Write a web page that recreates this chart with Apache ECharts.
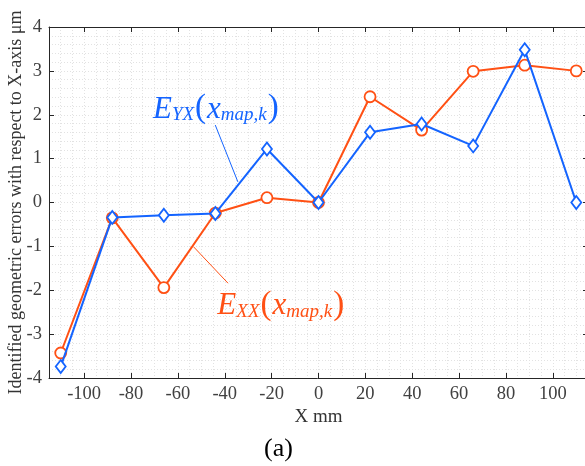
<!DOCTYPE html>
<html>
<head>
<meta charset="utf-8">
<script src="https://cdn.jsdelivr.net/npm/echarts@6/dist/echarts.min.js"></script>
<style>
html, body { margin: 0; padding: 0; background: #fff; }
#main { width: 585px; height: 466px; }
</style>
</head>
<body>
<div id="main"></div>
<script>
// measurement positions (mm)
var xPos = [-110, -88, -66, -44, -22, 0, 22, 44, 66, 88, 110];
// identified errors (um)
var exx = [-3.43, -0.35, -1.94, -0.24, 0.11, 0.0, 2.41, 1.65, 2.99, 3.13, 3.0];
var eyx = [-3.74, -0.34, -0.29, -0.25, 1.22, 0.0, 1.60, 1.79, 1.29, 3.48, 0.0];
var xTicks = [-100, -80, -60, -40, -20, 0, 20, 40, 60, 80, 100];
var yTicks = [-4, -3, -2, -1, 0, 1, 2, 3, 4];

var BLUE = '#1464ff';
var ORANGE = '#ff5014';
var SERIF = 'Liberation Serif';

function pairs(xs, ys) {
  return xs.map(function (x, i) { return [x, ys[i]]; });
}

function mathRich(color) {
  return {
    e: { fontFamily: SERIF, fontStyle: 'italic', fontSize: 31, color: color, lineHeight: 34, verticalAlign: 'bottom' },
    s: { fontFamily: SERIF, fontStyle: 'italic', fontSize: 19, color: color, lineHeight: 15, verticalAlign: 'bottom' },
    p: { fontFamily: SERIF, fontSize: 33, color: color, lineHeight: 36, verticalAlign: 'bottom', padding: [0, 1, 0, 1] }
  };
}

var chart = echarts.init(document.getElementById('main'), null, { renderer: 'canvas' });

var axisLine = { show: true, onZero: false, lineStyle: { color: '#262626', width: 1 } };
var tickStyle = { color: '#262626', width: 1 };
var gridDots = { show: true, lineStyle: { color: '#e2e2e2', type: [1, 2], width: 1 } };
var hidden = { show: false };

var option = {
  animation: false,
  title: {
    text: '(a)',
    left: 259,
    top: 431,
    textStyle: { fontFamily: SERIF, fontSize: 26, fontWeight: 'normal', color: '#000' }
  },
  grid: { left: 49, right: -3, top: 27, bottom: 88, outerBoundsMode: 'none', containLabel: false },
  xAxis: [
    {
      type: 'value', position: 'bottom', min: -115, max: 115, interval: 5,
      name: 'X mm', nameLocation: 'middle', nameGap: 30, nameMoveOverlap: false,
      nameTextStyle: { fontFamily: SERIF, fontSize: 19, color: '#333' },
      axisLine: axisLine,
      axisTick: { show: true, inside: true, length: 5, customValues: xTicks, lineStyle: tickStyle },
      axisLabel: { show: true, customValues: xTicks, margin: 7, fontFamily: SERIF, fontSize: 18.5, color: '#404040' },
      splitLine: hidden
    },
    {
      type: 'value', position: 'top', min: -115, max: 115, interval: 5,
      axisLine: axisLine,
      axisTick: { show: true, inside: true, length: 5, customValues: xTicks, lineStyle: tickStyle },
      axisLabel: hidden,
      splitLine: hidden
    },
    {
      // dotted minor grid only
      type: 'value', position: 'bottom', min: -115, max: 115, interval: 5,
      axisLine: hidden, axisTick: hidden, axisLabel: hidden,
      splitLine: gridDots
    }
  ],
  yAxis: [
    {
      type: 'value', position: 'left', min: -4, max: 4, interval: 0.2,
      name: 'Identified geometric errors with respect to X-axis \u03bcm',
      nameLocation: 'middle', nameGap: 24, nameMoveOverlap: false,
      nameTextStyle: { fontFamily: SERIF, fontSize: 18, color: '#333' },
      axisLine: axisLine,
      axisTick: { show: true, inside: true, length: 5, customValues: yTicks, lineStyle: tickStyle },
      axisLabel: { show: true, customValues: yTicks, margin: 7, fontFamily: SERIF, fontSize: 18.5, color: '#404040' },
      splitLine: hidden
    },
    {
      type: 'value', position: 'right', min: -4, max: 4, interval: 0.2,
      axisLine: axisLine,
      axisTick: { show: true, inside: true, length: 5, customValues: yTicks, lineStyle: tickStyle },
      axisLabel: hidden,
      splitLine: hidden
    },
    {
      type: 'value', position: 'left', min: -4, max: 4, interval: 0.2,
      axisLine: hidden, axisTick: hidden, axisLabel: hidden,
      splitLine: gridDots
    }
  ],
  series: [
    {
      name: 'EXX',
      type: 'line',
      data: pairs(xPos, exx),
      symbol: 'circle',
      symbolSize: 11,
      showAllSymbol: true,
      lineStyle: { color: ORANGE, width: 2 },
      itemStyle: { color: '#fff', borderColor: ORANGE, borderWidth: 1.8 },
      z: 3,
      markLine: {
        silent: true, symbol: ['none', 'none'],
        lineStyle: { color: ORANGE, width: 1, type: 'solid' },
        label: { show: false },
        data: [[{ coord: [-53.3, -1.01] }, { coord: [-38.6, -1.84] }]]
      },
      markPoint: {
        silent: true, symbol: 'circle', symbolSize: 1,
        itemStyle: { color: 'rgba(0,0,0,0)' },
        label: {
          show: true, position: 'inside',
          formatter: '{e|E}{s|XX}{p|(}{e|x}{s|map,k}{p|)}',
          rich: mathRich(ORANGE)
        },
        data: [{ coord: [-15.9, -2.3] }]
      }
    },
    {
      name: 'EYX',
      type: 'line',
      data: pairs(xPos, eyx),
      symbol: 'diamond',
      symbolSize: [10, 13],
      showAllSymbol: true,
      lineStyle: { color: BLUE, width: 2 },
      itemStyle: { color: '#fff', borderColor: BLUE, borderWidth: 1.8 },
      z: 4,
      markLine: {
        silent: true, symbol: ['none', 'none'],
        lineStyle: { color: BLUE, width: 1, type: 'solid' },
        label: { show: false },
        data: [[{ coord: [-44.05, 1.765] }, { coord: [-34.4, 0.47] }]]
      },
      markPoint: {
        silent: true, symbol: 'circle', symbolSize: 1,
        itemStyle: { color: 'rgba(0,0,0,0)' },
        label: {
          show: true, position: 'inside',
          formatter: '{e|E}{s|YX}{p|(}{e|x}{s|map,k}{p|)}',
          rich: mathRich(BLUE)
        },
        data: [{ coord: [-43.6, 2.18] }]
      }
    }
  ]
};

chart.setOption(option);
</script>
</body>
</html>
